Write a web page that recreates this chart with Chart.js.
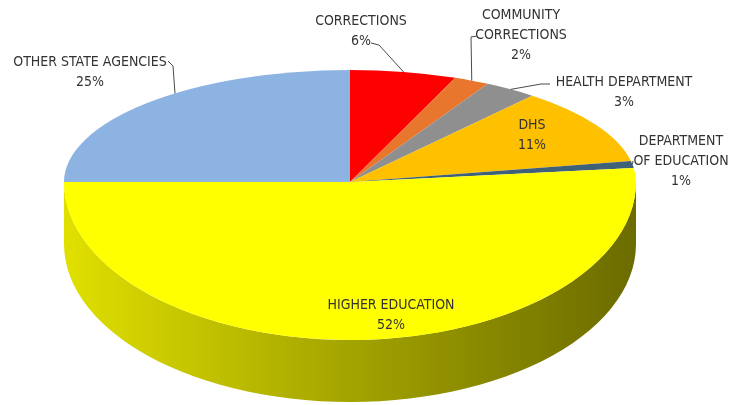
<!DOCTYPE html>
<html lang="en">
<head>
<meta charset="UTF-8">
<title>Share by agency</title>
<script src="https://cdn.jsdelivr.net/npm/chart.js@4.4.0/dist/chart.umd.min.js"></script>
<style>
    html, body { margin: 0; padding: 0; background: #fff; }
    .wrap { position: relative; width: 731px; height: 405px; }
</style>
</head>
<body>
<div class="wrap"><canvas id="pie"></canvas></div>
<script>
const agencies = [['CORRECTIONS'], ['COMMUNITY', 'CORRECTIONS'], ['HEALTH DEPARTMENT'], ['DHS'],
                  ['DEPARTMENT', 'OF EDUCATION'], ['HIGHER EDUCATION'], ['OTHER STATE AGENCIES']];
const shares = [6, 2, 3, 11, 1, 52, 25];
const sliceColors = ['#FF0000', '#E8762D', '#8F8F8F', '#FFC000', '#3F6079', '#FFFF00', '#8DB3E2'];

// tilted disc the flat pie is projected on (back half flatter than front half)
const disc = { cx: 350, cy: 182, rx: 286, ryBack: 112, ryFront: 158, depth: 62 };

// where each label sits (centre of first line), start of its leader line,
// and optionally the x where the leader should meet the rim
const labelSpots = [
    { x: 361, y: 21, lead: [371, 43, 379, 45] },
    { x: 521, y: 15, lead: [477, 36, 471, 37] },
    { x: 624, y: 82, lead: [550, 84, 541, 84] },
    { x: 532, y: 125 },
    { x: 681, y: 141, lead: [633, 161] },
    { x: 391, y: 305 },
    { x: 90, y: 62, lead: [168, 61, 173, 66], tx: 175 }
];
const labelFont = '14px "Liberation Sans Narrow", "DejaVu Sans Condensed", "Open Sans", sans-serif';
const lineGap = 20;

function rimPoint(t, drop) {
    const ry = Math.sin(t) < 0 ? disc.ryBack : disc.ryFront;
    return [disc.cx + disc.rx * Math.cos(t), disc.cy + ry * Math.sin(t) + (drop || 0)];
}

// angle on the back rim at a given x, if it lies inside the slice
function backAngleAt(x, arc) {
    let t = -Math.acos(Math.max(-1, Math.min(1, (x - disc.cx) / disc.rx)));
    if (t < arc.startAngle) t += 2 * Math.PI;
    return (t >= arc.startAngle && t <= arc.endAngle) ? t : (arc.startAngle + arc.endAngle) / 2;
}

function shade(hex, f) {
    const n = parseInt(hex.slice(1), 16);
    const r = Math.round(((n >> 16) & 255) * f), g = Math.round(((n >> 8) & 255) * f), b = Math.round((n & 255) * f);
    return `rgb(${r},${g},${b})`;
}

const pie3d = {
    id: 'pie3d',
    beforeDatasetsDraw(chart) {
        const ctx = chart.ctx;
        const arcs = chart.getDatasetMeta(0).data;
        const R = arcs[0].outerRadius, ox = arcs[0].x, oy = arcs[0].y;

        // front wall, only the part below the horizon is visible
        arcs.forEach((arc, i) => {
            const a = Math.max(arc.startAngle, 0), b = Math.min(arc.endAngle, Math.PI);
            if (b <= a) return;
            ctx.save();
            ctx.beginPath();
            for (let k = 0; k <= 60; k++) {
                const p = rimPoint(a + (b - a) * k / 60);
                k ? ctx.lineTo(p[0], p[1]) : ctx.moveTo(p[0], p[1]);
            }
            for (let k = 60; k >= 0; k--) {
                const p = rimPoint(a + (b - a) * k / 60, disc.depth);
                ctx.lineTo(p[0], p[1]);
            }
            ctx.closePath();
            const grad = ctx.createLinearGradient(disc.cx - disc.rx, 0, disc.cx + disc.rx, 0);
            grad.addColorStop(0, shade(sliceColors[i], 0.88));
            grad.addColorStop(0.5, shade(sliceColors[i], 0.64));
            grad.addColorStop(1, shade(sliceColors[i], 0.42));
            ctx.fillStyle = grad;
            ctx.fill();
            ctx.restore();
        });

        // top face: back half and front half squashed differently
        [[disc.ryBack, 0, disc.cy], [disc.ryFront, disc.cy, chart.height]].forEach(([ry, y0, y1]) => {
            ctx.save();
            ctx.beginPath();
            ctx.rect(0, y0, chart.width, y1 - y0);
            ctx.clip();
            ctx.translate(disc.cx, disc.cy);
            ctx.scale(disc.rx / R, ry / R);
            ctx.translate(-ox, -oy);
            arcs.forEach(arc => arc.draw(ctx));
            ctx.restore();
        });
        return false;
    },
    afterDraw(chart) {
        const ctx = chart.ctx;
        const arcs = chart.getDatasetMeta(0).data;
        ctx.save();
        ctx.font = labelFont;
        ctx.fillStyle = '#333333';
        ctx.textAlign = 'center';
        ctx.textBaseline = 'middle';
        ctx.strokeStyle = '#4a4a4a';
        ctx.lineWidth = 1;
        arcs.forEach((arc, i) => {
            const spot = labelSpots[i];
            const lines = [...chart.data.labels[i], shares[i] + '%'];
            lines.forEach((s, k) => ctx.fillText(s, spot.x, spot.y + k * lineGap));
            if (spot.lead) {
                const t = spot.tx ? backAngleAt(spot.tx, arc) : (arc.startAngle + arc.endAngle) / 2;
                const end = rimPoint(t);
                ctx.beginPath();
                ctx.moveTo(spot.lead[0], spot.lead[1]);
                for (let k = 2; k < spot.lead.length; k += 2) ctx.lineTo(spot.lead[k], spot.lead[k + 1]);
                ctx.lineTo(end[0], end[1]);
                ctx.stroke();
            }
        });
        ctx.restore();
    }
};

new Chart(document.getElementById('pie'), {
    type: 'pie',
    data: {
        labels: agencies,
        datasets: [{
            data: shares,
            backgroundColor: sliceColors,
            borderWidth: 0
        }]
    },
    options: {
        responsive: true,
        maintainAspectRatio: false,
        animation: false,
        events: [],
        plugins: {
            legend: { display: false },
            tooltip: { enabled: false }
        }
    },
    plugins: [pie3d]
});
</script>
</body>
</html>
